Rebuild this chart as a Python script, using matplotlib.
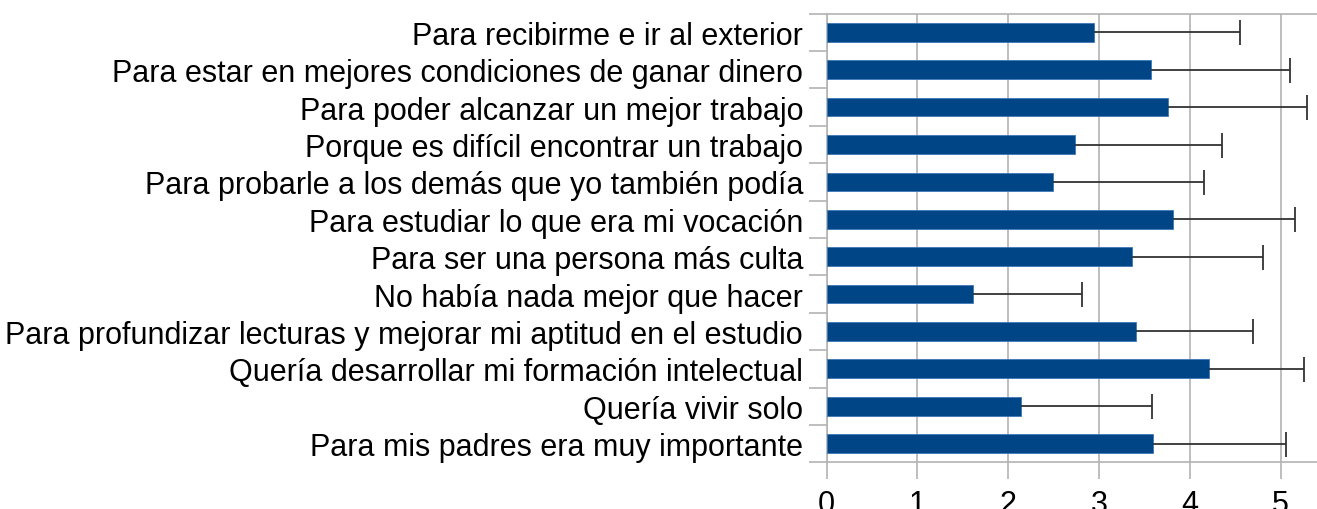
import matplotlib
matplotlib.use('Agg')
import matplotlib.pyplot as plt
import numpy as np

# --- Datos (de arriba hacia abajo) ---
motivos = [
    'Para recibirme e ir al exterior',
    'Para estar en mejores condiciones de ganar dinero',
    'Para poder alcanzar un mejor trabajo',
    'Porque es difícil encontrar un trabajo',
    'Para probarle a los demás que yo también podía',
    'Para estudiar lo que era mi vocación',
    'Para ser una persona más culta',
    'No había nada mejor que hacer',
    'Para profundizar lecturas y mejorar mi aptitud en el estudio',
    'Quería desarrollar mi formación intelectual',
    'Quería vivir solo',
    'Para mis padres era muy importante',
]
medias = [2.94, 3.575, 3.76, 2.74, 2.49, 3.81, 3.36, 1.61, 3.41, 4.21, 2.14, 3.59]
desvios = [1.61, 1.53, 1.53, 1.61, 1.66, 1.35, 1.44, 1.20, 1.29, 1.05, 1.44, 1.47]
ticks_x = [0, 1, 2, 3, 4, 5]

GRIS = '#b3b3b3'
AZUL = '#004586'

plt.rcParams['font.family'] = ['Liberation Sans', 'DejaVu Sans']

fig = plt.figure(figsize=(13.17, 5.10), dpi=100)
ax = fig.add_axes([0.6277, 0.0916, 0.3723, 0.8796])

n = len(motivos)
y = np.arange(n)
ax.barh(y, medias, height=0.5, color=AZUL, edgecolor='#3d78b8', linewidth=0.6, zorder=3)

# barras de error solo hacia la derecha (sin tope en el extremo de la barra)
_, caps, _ = ax.errorbar(medias, y, xerr=[np.zeros(n), desvios], fmt='none',
                         ecolor='#333333', elinewidth=1.3, capsize=9, capthick=1.3,
                         zorder=4)
caps[0].set_visible(False)

ax.set_ylim(n - 0.5, -0.5)
ax.set_xlim(0, 5.4)

ax.set_yticks(y)
ax.set_yticklabels(motivos, fontsize=22)
ax.set_yticks(np.arange(n + 1) - 0.5, minor=True)
ax.tick_params(axis='y', which='major', length=0, pad=17)
ax.tick_params(axis='y', which='minor', length=13, color=GRIS, width=1.2)

ax.set_xticks(ticks_x)
ax.tick_params(axis='x', length=12, color=GRIS, width=1.2, labelsize=22, pad=7)

ax.grid(axis='x', color=GRIS, linewidth=1.2, zorder=0)
for lado in ['left', 'bottom', 'top']:
    ax.spines[lado].set_color(GRIS)
    ax.spines[lado].set_linewidth(1.2)
ax.spines['right'].set_visible(False)

fig.savefig('out.png', dpi=100)
